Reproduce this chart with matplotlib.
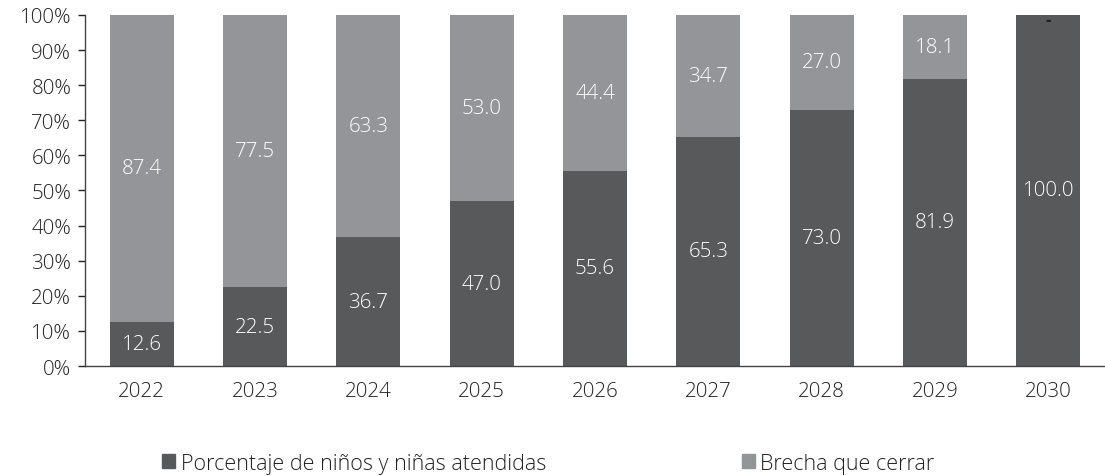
import matplotlib
matplotlib.use("Agg")
import matplotlib.pyplot as plt
from matplotlib.patches import Patch
from matplotlib.ticker import FuncFormatter

years = ["2022", "2023", "2024", "2025", "2026", "2027", "2028", "2029", "2030"]
atendidas = [12.6, 22.5, 36.7, 47.0, 55.6, 65.3, 73.0, 81.9, 100.0]
brecha = [87.4, 77.5, 63.3, 53.0, 44.4, 34.7, 27.0, 18.1, 0.0]
series_names = ["Porcentaje de niños y niñas atendidas", "Brecha que cerrar"]

dark = "#58595b"
light = "#939598"
plt.rcParams['font.family'] = ['Open Sans', 'DejaVu Sans']
plt.rcParams['font.weight'] = 'light'

fig = plt.figure(figsize=(11.05, 4.77), dpi=100)
ax = fig.add_axes([0.077, 0.2306, 0.923, 0.7359])

x = range(len(years))
w = 0.565
ax.bar(x, atendidas, w, color=dark, label=series_names[0])
ax.bar(x, brecha, w, bottom=atendidas, color=light, label=series_names[1])

fs = 14.8
for i in x:
    a, b = atendidas[i], brecha[i]
    ax.text(i, a / 2, f"{a:.1f}", ha='center', va='center', color='white', fontsize=fs)
    if b > 0:
        ax.text(i, a + b / 2, f"{b:.1f}", ha='center', va='center', color='white', fontsize=fs)
    else:
        ax.text(i, a - 1.5, "-", ha='center', va='center', color='#222222', fontsize=12, fontweight='bold')

ax.set_xlim(-0.5, len(years) - 0.5)
ax.set_ylim(0, 100)
ax.set_yticks(range(0, 101, 10))
ax.yaxis.set_major_formatter(FuncFormatter(lambda v, p: f"{int(v)}%"))
ax.set_xticks(list(x))
ax.set_xticklabels(years)
ax.tick_params(axis='x', length=0, pad=11, labelsize=fs, colors='#222222')
ax.tick_params(axis='y', length=5, width=1, labelsize=fs, colors='#222222', direction='out', pad=5)
for s in ['top', 'right']:
    ax.spines[s].set_visible(False)
for s in ['left', 'bottom']:
    ax.spines[s].set_color('#444444')
    ax.spines[s].set_linewidth(1)

handles = [Patch(color=dark), Patch(color=light)]
fig.legend(handles, series_names, loc='center', bbox_to_anchor=(0.4964, 0.027), ncol=2,
           frameon=False, fontsize=15.5, handlelength=0.6, handleheight=0.6,
           handletextpad=0.25, columnspacing=9.1, labelcolor='#222222')

fig.savefig("out.png", dpi=100)
